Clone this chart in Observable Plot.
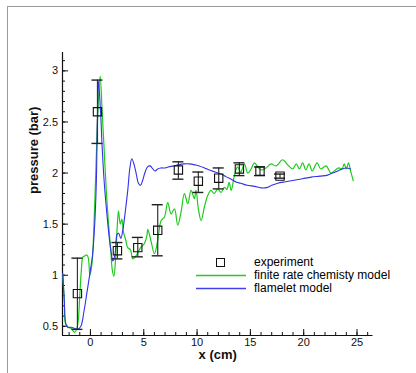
<!DOCTYPE html>
<html><head><meta charset="utf-8">
<script src="https://cdn.jsdelivr.net/npm/d3@7"></script>
<script src="https://cdn.jsdelivr.net/npm/@observablehq/plot@0.6"></script>
<style>
body{margin:0;background:#fff;font-family:"Liberation Sans",Arial,sans-serif;}
#wrap{position:relative;width:416px;height:373px;overflow:hidden;}
#frame{position:absolute;left:7px;top:6px;width:420px;height:380px;border-top:1.6px solid #9a9a9a;border-left:1.6px solid #9a9a9a;pointer-events:none;}
#legend{position:absolute;left:196px;top:256px;font-size:12px;color:#000;line-height:13px;}
#legend .row{display:flex;align-items:center;height:13px;}
#legend .sw{width:50px;height:13px;position:relative;margin-right:8px;}
</style></head>
<body>
<div id="wrap"><div id="frame"></div><div id="plot"></div>
<div id="legend">
<div class="row"><div class="sw"><div style="position:absolute;left:20px;top:2px;width:9px;height:9px;border:1px solid #111;box-sizing:border-box"></div></div><span>experiment</span></div>
<div class="row"><div class="sw"><svg width="50" height="13" style="position:absolute;left:0;top:0"><line x1="0" x2="50" y1="6.5" y2="6.5" stroke="#22cc22" stroke-width="1.4"/></svg></div><span>finite rate chemisty model</span></div>
<div class="row"><div class="sw"><svg width="50" height="13" style="position:absolute;left:0;top:0"><line x1="0" x2="50" y1="6.5" y2="6.5" stroke="#4040ee" stroke-width="1.4"/></svg></div><span>flamelet model</span></div>
</div>
</div>
<script>
// experiment
const expX  = [-1.22, 0.66, 2.53, 4.44, 6.31, 8.25, 10.12, 12.03, 13.97, 15.9, 17.78];
const expY  = [0.82, 2.60, 1.24, 1.27, 1.44, 2.03, 1.92, 1.95, 2.04, 2.02, 1.97];
const expLo = [0.47, 2.29, 1.16, 1.18, 1.19, 1.94, 1.81, 1.845, 1.975, 1.975, 1.95];
const expHi = [1.167, 2.91, 1.32, 1.37, 1.69, 2.11, 2.01, 2.05, 2.10, 2.06, 1.99];

// flamelet model (blue)
const flameX = [-2.6,-2.45,-2.3,-2.1,-1.8,-1.5,-1.2,-0.9,-0.6,-0.3,0.0,0.2,0.4,0.55,0.65,0.75,0.95,1.1,1.3,1.5,1.75,1.95,2.1,2.3,2.5,2.65,2.85,3.05,3.3,3.5,3.7,3.88,4.1,4.3,4.5,4.7,4.9,5.1,5.35,5.6,5.85,6.05,6.3,6.6,7.0,7.3,7.8,8.2,8.8,9.3,9.8,10.2,10.7,11.15,11.7,12.25,12.7,13.2,13.7,14.1,14.7,15.4,16.0,16.6,17.0,17.56,18.3,19.1,19.9,20.7,21.5,22.25,22.7,23.2,23.6,24.0,24.4];
const flameY = [1.02,0.75,0.52,0.49,0.49,0.48,0.47,0.5,0.65,0.85,1.05,1.2,1.5,1.9,2.5,2.9,2.6,2.25,1.9,1.65,1.38,1.22,1.14,1.2,1.40,1.41,1.36,1.45,1.65,1.83,2.05,2.14,2.08,1.99,1.9,1.88,1.93,2.0,2.06,2.07,2.04,2.02,2.04,2.05,2.05,2.06,2.07,2.08,2.09,2.09,2.08,2.07,2.05,2.03,2.01,1.99,1.965,1.94,1.91,1.90,1.88,1.87,1.855,1.86,1.88,1.90,1.915,1.93,1.945,1.96,1.97,1.98,2.0,2.02,2.04,2.05,2.04];

// finite rate chemistry model (green)
const finiteX = [-2.6,-2.45,-2.35,-2.1,-1.8,-1.5,-1.3,-1.15,-1.0,-0.85,-0.7,-0.5,-0.35,-0.2,-0.05,0.15,0.3,0.5,0.7,0.91,1.1,1.3,1.5,1.7,1.9,2.05,2.2,2.35,2.5,2.63,2.8,2.95,3.1,3.3,3.5,3.75,3.97,4.2,4.45,4.7,5.06,5.3,5.38,5.69,6.0,6.31,6.63,6.94,7.25,7.56,7.88,8.19,8.5,8.81,9.13,9.44,9.75,9.9,10.12,10.38,10.69,11.0,11.3,11.6,11.94,12.25,12.56,12.8,13.0,13.2,13.5,13.8,14.1,14.44,14.75,15.07,15.37,15.7,16.0,16.46,16.94,17.4,18.03,18.5,18.97,19.3,19.6,19.9,20.2,20.5,20.8,21.25,21.6,22.1,22.56,22.87,23.3,23.6,23.8,24.0,24.2,24.4,24.65];
const finiteY = [1.01,0.75,0.53,0.49,0.48,0.44,0.47,0.55,0.8,1.05,1.18,1.19,1.2,1.17,1.0,1.12,1.4,2.0,2.6,2.95,2.6,2.2,1.8,1.5,1.25,1.05,0.99,1.15,1.45,1.63,1.5,1.55,1.42,1.35,1.27,1.25,1.16,1.18,1.22,1.27,1.31,1.39,1.45,1.33,1.21,1.34,1.535,1.57,1.71,1.6,1.65,1.49,1.62,1.80,1.70,1.83,1.75,1.83,1.65,1.535,1.67,1.78,1.83,1.80,1.845,1.81,1.86,1.84,1.91,1.83,1.975,2.06,2.01,2.09,2.0,2.04,2.10,2.06,2.03,2.05,2.09,2.07,2.13,2.08,2.04,2.09,2.04,2.10,2.03,2.09,2.02,2.10,2.04,2.07,2.0,2.02,2.05,2.04,2.09,2.04,2.10,2.02,1.925];

// tick labels
const xMajor = [0, 5, 10, 15, 20, 25];
const xMinor = d3.range(-2, 27, 1);
const yMajor = [0.5, 1, 1.5, 2, 2.5, 3];
const yMinor = d3.range(0.5, 3.15, 0.1);

const xDomain = [-2.62, 26.5];
const yDomain = [0.41, 3.18];

const exp = expX.map((x, i) => ({x, y: expY[i], lo: expLo[i], hi: expHi[i]}));
const flame = flameX.map((x, i) => ({x, y: flameY[i]}));
const finite = finiteX.map((x, i) => ({x, y: finiteY[i]}));

const chart = Plot.plot({
  width: 416, height: 373,
  marginLeft: 62, marginRight: 43.5, marginTop: 52, marginBottom: 38,
  style: {fontFamily: '"Liberation Sans", Arial, sans-serif', fontSize: "11px", color: "#111", background: "transparent"},
  x: {domain: xDomain},
  y: {domain: yDomain},
  marks: [
    Plot.axisX({ticks: xMinor, tickSize: -3, tickFormat: () => "", label: null}),
    Plot.axisX({ticks: xMajor, tickSize: -6, tickPadding: 9, tickFormat: d => String(d), label: null, fontSize: 11}),
    Plot.axisY({ticks: yMinor, tickSize: -3, tickFormat: () => "", label: null}),
    Plot.axisY({ticks: yMajor, tickSize: -6, tickPadding: 10.5, tickFormat: d => String(d), label: null, fontSize: 11}),
    Plot.ruleX([xDomain[0]], {stroke: "#111", strokeWidth: 1.2}),
    Plot.ruleY([yDomain[0]], {stroke: "#111", strokeWidth: 1.2}),
    Plot.line(finite, {x: "x", y: "y", stroke: "#1ccc1c", strokeWidth: 1.2, curve: "catmull-rom"}),
    Plot.line(flame, {x: "x", y: "y", stroke: "#3232e8", strokeWidth: 1.1, curve: "catmull-rom"}),
    Plot.ruleX(exp, {x: "x", y1: "lo", y2: "hi", stroke: "#333", strokeWidth: 1.2}),
    Plot.ruleY(exp, {y: "hi", x1: "x", x2: "x", insetLeft: -5.5, insetRight: -5.5, stroke: "#222", strokeWidth: 1.4}),
    Plot.ruleY(exp, {y: "lo", x1: "x", x2: "x", insetLeft: -5.5, insetRight: -5.5, stroke: "#222", strokeWidth: 1.4}),
    Plot.dot(exp, {x: "x", y: "y", symbol: "square", r: 4.7, stroke: "#111", strokeWidth: 1.1, fill: "none"}),
    Plot.text(["pressure (bar)"], {frameAnchor: "left", dx: -29, rotate: -90, fontWeight: "bold", fontSize: 13, fill: "#111"}),
    Plot.text(["x (cm)"], {frameAnchor: "bottom", dy: 23, fontWeight: "bold", fontSize: 13, fill: "#111"})
  ]
});
document.getElementById("plot").appendChild(chart);
</script>
</body></html>
